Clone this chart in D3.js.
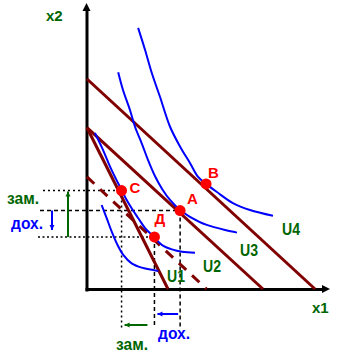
<!DOCTYPE html>
<html><head><meta charset="utf-8">
<script src="https://cdn.jsdelivr.net/npm/d3@7"></script>
<style>body{margin:0;background:#fff}svg{display:block}text{font-family:"Liberation Sans",Arial,sans-serif}</style>
</head><body><svg id="c" width="349" height="359"></svg>
<script>
// ---- data (x1, x2 units) ----
const curveNames = ["U1", "U2", "U3", "U4"];
const U1 = [[0.61,3.5],[0.82,2.95],[1.03,2.39],[1.24,1.90],[1.51,1.42],[1.86,1.07],[2.28,0.89],[2.76,0.79],[2.97,0.75]];
const U2 = [[0.33,6.5],[0.67,5.79],[0.96,5.10],[1.21,4.58],[1.44,4.13],[1.63,3.75],[1.88,3.33],[2.13,2.96],[2.42,2.54],[2.79,2.17],[3.13,1.83],[3.54,1.65],[3.96,1.55],[4.5,1.51]];
const U3 = [[1.30,9.03],[1.5,8.29],[1.79,7.46],[2.0,6.76],[2.28,6.07],[2.54,5.38],[2.83,4.71],[3.13,4.17],[3.46,3.71],[3.88,3.29],[4.29,3.01],[4.99,2.67],[6.25,2.35]];
const U4 = [[2.13,10.88],[2.42,9.96],[2.70,9.0],[3.04,8.01],[3.46,6.76],[3.88,5.93],[4.29,5.25],[4.63,4.67],[4.96,4.38],[5.40,4.05],[6.08,3.58],[6.79,3.29],[7.75,3.05]];
const budgetSolid = [[[0,8.75],[9.5,0]], [[0,6.72],[7.33,0]], [[0,6.72],[3.375,0]]];
const budgetDashed = [[[0,4.67],[4.98,0]]];
const pointNames = ["A", "B", "C", "Д"];
const pointX = [3.88, 4.96, 1.44, 2.81];
const pointY = [3.27, 4.38, 4.10, 2.17];
const axisLabels = ["x1", "x2"];
const effectLabels = ["зам.", "дох."];

// ---- scales ----
const x = d3.scaleLinear().domain([0, 10]).range([87, 327]);
const y = d3.scaleLinear().domain([0, 12]).range([289, 1]);
const svg = d3.select("#c");
const GREEN = "#006600", RED = "#ff0000", BLUE = "#0000ff", MAROON = "#800000";

// ---- guide lines ----
const P = {};
pointNames.forEach((n, i) => P[n] = [x(pointX[i]), y(pointY[i])]);
const guides = [
  {p: "C", left: 43, bottom: 330, hd: "2,3", vd: "2,3"},
  {p: "A", left: 40, bottom: 327, hd: "4,3", vd: "4,3"},
  {p: "Д", left: 38, bottom: 327, hd: "2,2.5", vd: "4,3"}
];
guides.forEach(g => {
  const [px, py] = P[g.p];
  svg.append("line").attr("x1", g.left).attr("x2", px).attr("y1", py).attr("y2", py)
    .attr("stroke", "#000").attr("stroke-width", 1.5).attr("stroke-dasharray", g.hd);
  svg.append("line").attr("x1", px).attr("x2", px).attr("y1", py).attr("y2", g.bottom)
    .attr("stroke", "#000").attr("stroke-width", 1.5).attr("stroke-dasharray", g.vd);
});

// ---- axes ----
const xa = svg.append("g").attr("transform", "translate(0,289)")
  .call(d3.axisBottom(x.copy().range([85, 324])).ticks(0).tickSize(0).tickSizeOuter(0));
const ya = svg.append("g").attr("transform", "translate(86.5,0)")
  .call(d3.axisLeft(y.copy().range([291, 9])).ticks(0).tickSize(0).tickSizeOuter(0));
[xa, ya].forEach(a => a.select(".domain").attr("stroke", "#000").attr("stroke-width", 3));
svg.append("path").attr("d", "M330,289 L322,285 L322,293 Z").attr("fill", "#000");
svg.append("path").attr("d", "M86.5,3 L82.5,11 L90.5,11 Z").attr("fill", "#000");

// ---- budget lines ----
const line = d3.line().x(d => x(d[0])).y(d => y(d[1]));
budgetSolid.forEach(b => svg.append("path").attr("d", line(b)).attr("fill", "none")
  .attr("stroke", MAROON).attr("stroke-width", 3));
budgetDashed.forEach(b => svg.append("path").attr("d", line(b)).attr("fill", "none")
  .attr("stroke", MAROON).attr("stroke-width", 3).attr("stroke-dasharray", "10,8"));

// ---- indifference curves ----
const curve = d3.line().x(d => x(d[0])).y(d => y(d[1])).curve(d3.curveCatmullRom.alpha(0.5));
[U1, U2, U3, U4].forEach(c => svg.append("path").attr("d", curve(c)).attr("fill", "none")
  .attr("stroke", BLUE).attr("stroke-width", 2));

// ---- points ----
pointNames.forEach((n, i) => svg.append("circle").attr("cx", x(pointX[i])).attr("cy", y(pointY[i]))
  .attr("r", 5.5).attr("fill", RED));
const pOff = {A: [7, -7], B: [2, -6], C: [8, 2], "Д": [0, -13]};
pointNames.forEach((n, i) => svg.append("text").attr("x", x(pointX[i]) + pOff[n][0])
  .attr("y", y(pointY[i]) + pOff[n][1]).attr("fill", RED).attr("font-size", 15)
  .attr("font-weight", "bold").text(n));

// ---- curve labels ----
const cPos = [[167, 282], [203, 272], [240, 256], [282, 235]];
curveNames.forEach((n, i) => svg.append("text").attr("x", cPos[i][0]).attr("y", cPos[i][1])
  .attr("fill", GREEN).attr("font-size", 16).attr("font-weight", "bold")
  .attr("textLength", 18).attr("lengthAdjust", "spacingAndGlyphs").text(n));

// ---- axis labels ----
svg.append("text").attr("x", 312).attr("y", 313).attr("fill", GREEN).attr("font-size", 15)
  .attr("font-weight", "bold").text(axisLabels[0]);
svg.append("text").attr("x", 46).attr("y", 21).attr("fill", GREEN).attr("font-size", 15)
  .attr("font-weight", "bold").text(axisLabels[1]);

// ---- effect arrows ----
function arrow(x1, y1, x2, y2, color) {
  svg.append("line").attr("x1", x1).attr("y1", y1).attr("x2", x2).attr("y2", y2)
    .attr("stroke", color).attr("stroke-width", 2);
  const a = Math.atan2(y2 - y1, x2 - x1), s = 5;
  const p = [[x2, y2],
    [x2 - s * Math.cos(a) + 2.5 * Math.sin(a), y2 - s * Math.sin(a) - 2.5 * Math.cos(a)],
    [x2 - s * Math.cos(a) - 2.5 * Math.sin(a), y2 - s * Math.sin(a) + 2.5 * Math.cos(a)]];
  svg.append("path").attr("d", "M" + p.join("L") + "Z").attr("fill", color);
}
arrow(68, P["Д"][1], 68, P["C"][1] + 1, GREEN);
arrow(52, P["A"][1], 52, 230, BLUE);
arrow(P["Д"][0] - 7, 325, P["C"][0] + 3, 325, GREEN);
arrow(P["A"][0] - 2, 314, P["Д"][0] + 3, 314, BLUE);

function effText(t, xx, yy, color) {
  svg.append("text").attr("x", xx).attr("y", yy).attr("fill", color).attr("font-size", 17)
    .attr("font-weight", "bold").attr("textLength", 32).attr("lengthAdjust", "spacingAndGlyphs").text(t);
}
effText(effectLabels[0], 7, 204, GREEN);
effText(effectLabels[1], 11, 229, BLUE);
effText(effectLabels[0], 116, 350, GREEN);
effText(effectLabels[1], 158, 339, BLUE);
</script></body></html>
